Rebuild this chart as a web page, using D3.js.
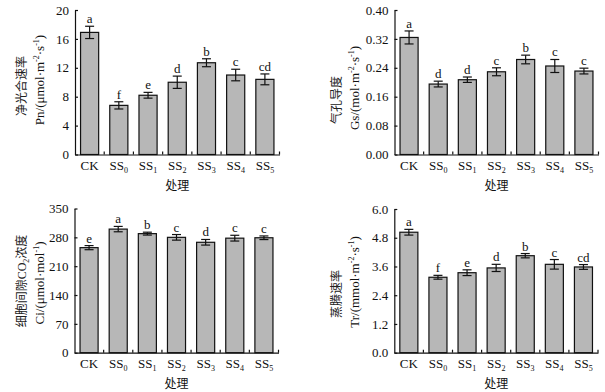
<!DOCTYPE html>
<html>
<head>
<meta charset="utf-8">
<script src="https://cdn.jsdelivr.net/npm/d3@7"></script>
<style>
  body { margin: 0; background: #fff; }
  svg { display: block; }
</style>
</head>
<body>
<svg id="chart" width="605" height="392"></svg>
<script>
// Treatments (base name + subscript)
const categories = ["CK", "SS0", "SS1", "SS2", "SS3", "SS4", "SS5"];

// Net photosynthetic rate Pn
const pnMean = [16.9, 6.8, 8.2, 10.0, 12.7, 11.0, 10.4];
const pnErr  = [0.85, 0.5, 0.4, 0.85, 0.55, 0.8, 0.75];
const pnSig  = ["a", "f", "e", "d", "b", "c", "cd"];
const pnTicks = [0, 4, 8, 12, 16, 20];

// Stomatal conductance Gs
const gsMean = [0.324, 0.195, 0.207, 0.229, 0.263, 0.245, 0.231];
const gsErr  = [0.018, 0.008, 0.0075, 0.011, 0.012, 0.018, 0.008];
const gsSig  = ["a", "d", "d", "c", "b", "c", "c"];
const gsTicks = [0, 0.08, 0.16, 0.24, 0.32, 0.40];

// Intercellular CO2 Ci
const ciMean = [255, 300, 289, 280, 268, 278, 279];
const ciErr  = [5, 6.5, 3.5, 6.8, 6.8, 7, 4.4];
const ciSig  = ["e", "a", "b", "c", "d", "c", "c"];
const ciTicks = [0, 70, 140, 210, 280, 350];

// Transpiration rate Tr
const trMean = [5.03, 3.15, 3.34, 3.54, 4.05, 3.69, 3.58];
const trErr  = [0.12, 0.08, 0.12, 0.15, 0.09, 0.2, 0.1];
const trSig  = ["a", "f", "e", "d", "b", "c", "cd"];
const trTicks = [0, 1.2, 2.4, 3.6, 4.8, 6.0];

const SERIF = "'Liberation Serif','Times New Roman','Noto Sans CJK SC',serif";
const CJK = "'Noto Sans CJK SC',sans-serif";

const svg = d3.select("#chart");

function renderPanel(p) {
  const x = d3.scaleBand().domain(categories)
    .range([p.left, p.right]).paddingInner(0.38).paddingOuter(0.19);
  const y = d3.scaleLinear().domain([0, p.ticks[p.ticks.length - 1]])
    .range([p.bottom, p.top]);
  const rows = categories.map((c, i) => ({ c, v: p.mean[i], e: p.err[i], s: p.sig[i] }));
  const g = svg.append("g");

  // Bars
  g.selectAll(".bar").data(rows).join("rect")
    .attr("x", d => x(d.c)).attr("width", x.bandwidth())
    .attr("y", d => y(d.v)).attr("height", d => y(0) - y(d.v))
    .attr("fill", "#b7b7b7").attr("stroke", "#111").attr("stroke-width", 1.2);

  // Error bars
  const cx = d => x(d.c) + x.bandwidth() / 2;
  const eb = g.selectAll(".eb").data(rows).join("g").attr("stroke", "#111").attr("stroke-width", 1.2);
  eb.append("line").attr("x1", cx).attr("x2", cx)
    .attr("y1", d => y(d.v + d.e)).attr("y2", d => y(d.v - d.e));
  eb.append("line").attr("x1", d => cx(d) - 4.5).attr("x2", d => cx(d) + 4.5)
    .attr("y1", d => y(d.v + d.e)).attr("y2", d => y(d.v + d.e));
  eb.append("line").attr("x1", d => cx(d) - 4.5).attr("x2", d => cx(d) + 4.5)
    .attr("y1", d => y(d.v - d.e)).attr("y2", d => y(d.v - d.e));

  // Significance letters
  g.selectAll(".sig").data(rows).join("text")
    .attr("x", cx).attr("y", d => y(d.v + d.e) - 3)
    .attr("text-anchor", "middle")
    .style("font-family", SERIF).style("font-size", "13px").style("fill", "#111")
    .text(d => d.s);

  // Y axis
  g.append("g")
    .attr("transform", `translate(${p.left},0)`)
    .call(d3.axisLeft(y).tickValues(p.ticks).tickFormat(d3.format(p.fmt))
      .tickSizeInner(-3).tickSizeOuter(0).tickPadding(6))
    .call(ax => {
      ax.select(".domain").attr("stroke", "#111").attr("stroke-width", 1.2);
      ax.selectAll(".tick line").attr("stroke", "#111").attr("stroke-width", 1.2);
      ax.selectAll(".tick text").style("font-family", SERIF).style("font-size", "13px").style("fill", "#111");
    });

  // X axis
  g.append("g")
    .attr("transform", `translate(0,${p.bottom})`)
    .call(d3.axisBottom(x).tickSize(0).tickPadding(6))
    .call(ax => {
      ax.select(".domain").attr("stroke", "#111").attr("stroke-width", 1.2);
      ax.selectAll(".tick text")
        .style("font-family", SERIF).style("font-size", "13px").style("fill", "#111")
        .each(function (d) {
          const t = d3.select(this).text("");
          const base = d.replace(/\d+$/, ""), sub = d.slice(base.length);
          t.append("tspan").text(base);
          if (sub) t.append("tspan").attr("dy", 3).style("font-size", "8px").text(sub);
        });
    });

  // X boundary ticks (pointing up)
  g.append("g").selectAll("line").data(categories).join("line")
    .attr("x1", d => x(d) + x.bandwidth() + x.step() * x.paddingInner() / 2)
    .attr("x2", d => x(d) + x.bandwidth() + x.step() * x.paddingInner() / 2)
    .attr("y1", p.bottom).attr("y2", p.bottom - 3)
    .attr("stroke", "#111").attr("stroke-width", 1.2);

  // X title
  g.append("text")
    .attr("x", (p.left + p.right) / 2).attr("y", p.bottom + 35)
    .attr("text-anchor", "middle")
    .style("font-family", CJK).style("font-size", "12px").style("fill", "#111")
    .text("处理");

  // Y titles
  const t1 = g.append("text")
    .attr("transform", `translate(${p.t1x},${p.t1y}) rotate(-90)`)
    .attr("dy", "0.35em").attr("text-anchor", "middle")
    .style("font-family", SERIF).style("font-size", "12px").style("fill", "#222");
  p.title1.forEach(part => {
    const ts = t1.append("tspan").text(part.t);
    if (part.sub) ts.attr("dy", 3).style("font-size", "8px");
    if (part.after) ts.attr("dy", -3);
  });
  const t2 = g.append("text")
    .attr("transform", `translate(${p.t2x},${p.t2y}) rotate(-90)`)
    .attr("dy", "0.35em").attr("text-anchor", "middle")
    .style("font-family", SERIF).style("font-size", "13px").style("fill", "#111");
  p.title2.forEach(part => {
    const ts = t2.append("tspan").text(part.t);
    if (part.sup) ts.attr("dy", -5).style("font-size", "8px");
    if (part.after) ts.attr("dy", 5);
  });
}

renderPanel({
  left: 75, right: 279.5, top: 10, bottom: 154.5,
  mean: pnMean, err: pnErr, sig: pnSig, ticks: pnTicks, fmt: "d",
  t1x: 21.5, t1y: 86, t2x: 39.5, t2y: 80,
  title1: [{ t: "净光合速率" }],
  title2: [{ t: "Pn/(μmol·m" }, { t: "-2", sup: true }, { t: "·s", after: true }, { t: "-1", sup: true }, { t: ")", after: true }]
});

renderPanel({
  left: 394.5, right: 598.5, top: 10, bottom: 154.5,
  mean: gsMean, err: gsErr, sig: gsSig, ticks: gsTicks, fmt: ".2f",
  t1x: 336.5, t1y: 100, t2x: 354.5, t2y: 88,
  title1: [{ t: "气孔导度" }],
  title2: [{ t: "Gs/(mol·m" }, { t: "-2", sup: true }, { t: "·s", after: true }, { t: "-1", sup: true }, { t: ")", after: true }]
});

renderPanel({
  left: 74.5, right: 278.5, top: 208.5, bottom: 352.7,
  mean: ciMean, err: ciErr, sig: ciSig, ticks: ciTicks, fmt: "d",
  t1x: 21.5, t1y: 281, t2x: 39.5, t2y: 283,
  title1: [{ t: "细胞间隙CO" }, { t: "2", sub: true }, { t: "浓度", after: true }],
  title2: [{ t: "Ci/(μmol·mol" }, { t: "-1", sup: true }, { t: ")", after: true }]
});

renderPanel({
  left: 394.3, right: 598, top: 209, bottom: 352.7,
  mean: trMean, err: trErr, sig: trSig, ticks: trTicks, fmt: ".1f",
  t1x: 336.5, t1y: 294, t2x: 354.5, t2y: 282,
  title1: [{ t: "蒸腾速率" }],
  title2: [{ t: "Tr/(mmol·m" }, { t: "-2", sup: true }, { t: "·s", after: true }, { t: "-1", sup: true }, { t: ")", after: true }]
});
</script>
</body>
</html>
